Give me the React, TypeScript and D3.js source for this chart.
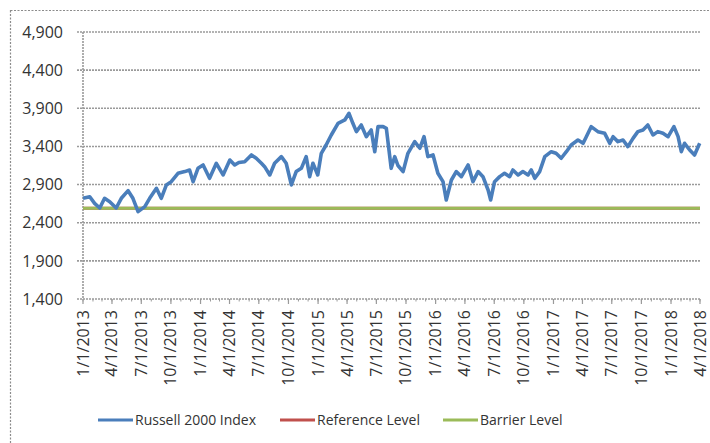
import React from "react";
import * as d3 from "d3";

const dates = [
  "2013-01-01","2013-01-22","2013-02-06","2013-02-22","2013-03-09","2013-03-25","2013-04-14","2013-04-30",
  "2013-05-21","2013-06-05","2013-06-21","2013-07-12","2013-07-27","2013-08-17","2013-09-01","2013-09-17",
  "2013-10-02","2013-10-23","2013-11-13","2013-11-28","2013-12-09","2013-12-24","2014-01-09","2014-01-29",
  "2014-02-19","2014-03-12","2014-04-02","2014-04-17","2014-04-30","2014-05-18","2014-06-08","2014-06-23",
  "2014-07-09","2014-07-19","2014-08-04","2014-08-19","2014-09-09","2014-09-24","2014-10-10","2014-10-25",
  "2014-11-10","2014-11-25","2014-12-06","2014-12-16","2014-12-31","2015-01-11","2015-01-26","2015-02-11",
  "2015-03-04","2015-03-25","2015-04-07","2015-04-19","2015-04-30","2015-05-15","2015-05-31","2015-06-15",
  "2015-06-26","2015-07-06","2015-07-22","2015-08-01","2015-08-16","2015-08-27","2015-09-06","2015-09-22",
  "2015-10-07","2015-10-28","2015-11-13","2015-11-26","2015-12-08","2015-12-24","2016-01-08","2016-01-24",
  "2016-02-03","2016-02-19","2016-03-05","2016-03-21","2016-04-11","2016-04-26","2016-05-12","2016-05-27",
  "2016-06-12","2016-06-20","2016-07-02","2016-07-18","2016-08-02","2016-08-18","2016-08-28","2016-09-13",
  "2016-09-28","2016-10-14","2016-10-24","2016-11-04","2016-11-19","2016-12-05","2016-12-25","2017-01-09",
  "2017-01-25","2017-02-10","2017-02-25","2017-03-18","2017-04-03","2017-04-13","2017-04-28","2017-05-19",
  "2017-06-09","2017-06-25","2017-07-05","2017-07-20","2017-08-05","2017-08-20","2017-09-05","2017-09-20",
  "2017-10-06","2017-10-21","2017-11-06","2017-11-21","2017-12-07","2017-12-23","2018-01-10","2018-01-23",
  "2018-02-02","2018-02-12","2018-02-28","2018-03-15","2018-03-31",
];

const russellValues = [
  2720,2741,2654,2593,2720,2676,2593,2720,
  2820,2720,2545,2611,2720,2851,2720,2895,
  2938,3048,3070,3091,2938,3113,3157,2982,
  3179,3026,3222,3157,3190,3200,3288,3245,
  3179,3135,3026,3179,3266,3179,2895,3070,
  3113,3266,3004,3179,3026,3310,3419,3550,
  3703,3747,3834,3703,3594,3681,3528,3616,
  3331,3659,3659,3637,3113,3266,3150,3070,
  3310,3463,3376,3528,3266,3288,3048,2938,
  2698,2960,3070,3004,3157,2938,3070,3004,
  2829,2698,2938,3004,3048,3004,3091,3026,
  3070,3026,3091,2982,3070,3266,3331,3310,
  3245,3331,3419,3484,3441,3528,3659,3594,
  3572,3441,3528,3463,3484,3397,3506,3594,
  3616,3681,3550,3594,3572,3528,3659,3528,
  3331,3441,3353,3288,3441,
];

const referenceLevel = 2590;
const barrierLevel = 2590;

const yTicks = [1400, 1900, 2400, 2900, 3400, 3900, 4400, 4900];
const xStart = "2013-01-01";
const xEnd = "2018-04-01";

const legendItems = [
  { label: "Russell 2000 Index", color: "#4A7EBB" },
  { label: "Reference Level", color: "#C0504D" },
  { label: "Barrier Level", color: "#9BBB59" },
];

const W = 710;
const H = 443;
const FONT = "'Open Sans', 'Liberation Sans', sans-serif";
const TEXT = "#333333";

export default function App() {
  const parse = d3.timeParse("%Y-%m-%d");
  const data = dates.map((d, i) => ({ date: parse(d) as Date, value: russellValues[i] }));
  const x0 = parse(xStart) as Date;
  const x1 = parse(xEnd) as Date;

  const x = d3.scaleTime().domain([x0, x1]).range([83, 700]);
  const y = d3.scaleLinear().domain([1400, 4900]).range([299, 32]);

  const line = d3
    .line<{ date: Date; value: number }>()
    .x((d) => x(d.date))
    .y((d) => y(d.value));

  const quarterTicks = d3.timeMonth.every(3)!.range(x0, d3.timeDay.offset(x1, 1));
  const monthTicks = d3.timeMonth.range(x0, d3.timeDay.offset(x1, 1));
  const fmtX = (d: Date) => `${d.getMonth() + 1}/${d.getDate()}/${d.getFullYear()}`;
  const fmtY = d3.format(",");

  const legendX = [98, 280, 443];

  return (
    <svg
      width={W}
      height={H}
      style={{ position: "absolute", left: 0, top: 0, background: "#fff" }}
      fontFamily={FONT}
    >
      <rect x={0} y={0} width={W} height={H} fill="#fff" />
      {/* chart frame */}
      <rect
        x={10.5}
        y={10.5}
        width={760}
        height={480}
        fill="none"
        stroke="#8c8c8c"
        strokeWidth={1.2}
        strokeDasharray="2 1.5"
      />

      {/* horizontal gridlines + y ticks */}
      {yTicks.map((t) => (
        <g key={t}>
          <line
            x1={77}
            x2={700}
            y1={y(t)}
            y2={y(t)}
            stroke="#9a9a9a"
            strokeWidth={1.6}
            strokeDasharray="2 1"
          />
          <text
            x={63}
            y={y(t)}
            dy="0.36em"
            textAnchor="end"
            fontSize={16}
            fill={TEXT}
          >
            {fmtY(t)}
          </text>
        </g>
      ))}

      {/* y axis line */}
      <line x1={83} x2={83} y1={y(4900)} y2={y(1400)} stroke="#9a9a9a" strokeWidth={1.6} strokeDasharray="2 1" />

      {/* x axis ticks */}
      {monthTicks.map((d, i) => (
        <line key={"m" + i} x1={x(d)} x2={x(d)} y1={299} y2={301.5} stroke="#9a9a9a" strokeWidth={1} />
      ))}
      {quarterTicks.map((d, i) => (
        <line key={"q" + i} x1={x(d)} x2={x(d)} y1={299} y2={304} stroke="#9a9a9a" strokeWidth={1.2} />
      ))}
      {quarterTicks.map((d, i) => (
        <text
          key={"t" + i}
          transform={`translate(${x(d) + 5.5},310) rotate(-90)`}
          textAnchor="end"
          fontSize={16}
          fill={TEXT}
        >
          {fmtX(d)}
        </text>
      ))}

      {/* reference + barrier levels */}
      <line x1={83} x2={700} y1={y(referenceLevel)} y2={y(referenceLevel)} stroke="#C0504D" strokeWidth={3} />
      <line x1={83} x2={700} y1={y(barrierLevel)} y2={y(barrierLevel)} stroke="#9BBB59" strokeWidth={3} />

      {/* index line */}
      <path d={line(data) || ""} fill="none" stroke="#4A7EBB" strokeWidth={3.6} strokeLinejoin="round" />

      {/* legend */}
      {legendItems.map((it, i) => (
        <g key={it.label}>
          <line x1={legendX[i]} x2={legendX[i] + 35} y1={420} y2={420} stroke={it.color} strokeWidth={3} />
          <text x={legendX[i] + 37} y={420} dy="0.36em" fontSize={14} fill={TEXT}>
            {it.label}
          </text>
        </g>
      ))}
    </svg>
  );
}
